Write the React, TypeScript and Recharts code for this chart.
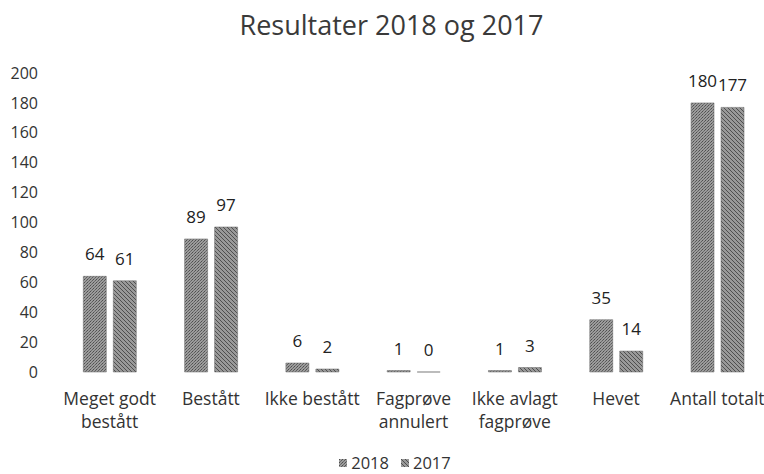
import { BarChart, Bar, XAxis, YAxis, Legend, LabelList } from "recharts"

const categories = [
  "Meget godt\nbestått",
  "Bestått",
  "Ikke bestått",
  "Fagprøve\nannulert",
  "Ikke avlagt\nfagprøve",
  "Hevet",
  "Antall totalt",
]
const values2018 = [64, 89, 6, 1, 1, 35, 180]
const values2017 = [61, 97, 2, 0, 3, 14, 177]
const yTicks = [0, 20, 40, 60, 80, 100, 120, 140, 160, 180, 200]

const data = categories.map((name, i) => ({
  name,
  y2018: values2018[i],
  y2017: values2017[i],
}))

const font = "'Open Sans', 'Noto Sans', sans-serif"

// zero-height bars are dropped, so give them a hair of height to keep their label
const keepZero = (v: any) => (v === 0 ? 0.01 : 0)

function CategoryTick(props: any) {
  const { x, y, payload } = props
  const lines = String(payload.value).split("\n")
  return (
    <text x={x} y={y} textAnchor="middle" fill="#333" fontSize={17.5} fontFamily={font}>
      {lines.map((l, i) => (
        <tspan key={i} x={x} dy={i === 0 ? 25 : 23}>
          {l}
        </tspan>
      ))}
    </text>
  )
}

function ValueLabel(props: any) {
  const { x, y, width, height, value } = props
  const top = Math.min(y, y + height)
  return (
    <text x={x + width / 2} y={top - 16} textAnchor="middle" fill="#222" fontSize={17} fontFamily={font}>
      {value}
    </text>
  )
}

function LegendContent() {
  const items = [
    { label: "2018", fill: "url(#pat2018)" },
    { label: "2017", fill: "url(#pat2017)" },
  ]
  return (
    <div
      style={{
        display: "flex",
        justifyContent: "center",
        paddingLeft: 22,
        fontFamily: font,
        fontSize: 16.5,
        color: "#333",
      }}
    >
      {items.map((it) => (
        <span key={it.label} style={{ display: "inline-flex", alignItems: "center", margin: "0 6px" }}>
          <svg width={8} height={8} style={{ marginRight: 4 }}>
            <rect width={8} height={8} fill={it.fill} />
          </svg>
          {it.label}
        </span>
      ))}
    </div>
  )
}

export default function App() {
  return (
    <div
      style={{
        position: "absolute",
        left: 0,
        top: 0,
        width: 764,
        height: 474,
        overflow: "hidden",
        background: "#fff",
      }}
    >
      <div
        style={{
          position: "absolute",
          top: 6,
          left: 0,
          width: 783,
          textAlign: "center",
          fontFamily: font,
          fontSize: 27,
          color: "#3a3a3a",
          lineHeight: "normal",
        }}
      >
        Resultater 2018 og 2017
      </div>
      <BarChart
        width={768}
        height={474}
        data={data}
        margin={{ top: 73, right: 0, bottom: 0, left: 0 }}
        barCategoryGap="24%"
        barGap={7}
      >
        <defs>
          <pattern id="pat2018" width="3" height="3" patternUnits="userSpaceOnUse">
            <rect width="3" height="3" fill="#9c9c9c" />
            <rect width="1" height="1" fill="#4e4e4e" />
            <rect x="2" y="1" width="1" height="1" fill="#5e5e5e" />
            <rect x="1" y="2" width="1" height="1" fill="#6e6e6e" />
          </pattern>
          <pattern id="pat2017" width="4" height="4" patternUnits="userSpaceOnUse">
            <rect width="4" height="4" fill="#999" />
            <path d="M0,0 L4,4 M-1,3 L1,5 M3,-1 L5,1" stroke="#4f4f4f" strokeWidth={1} />
          </pattern>
        </defs>
        <XAxis
          dataKey="name"
          axisLine={false}
          tickLine={false}
          interval={0}
          height={79}
          tick={<CategoryTick />}
        />
        <YAxis
          domain={[0, 200]}
          ticks={yTicks}
          axisLine={false}
          tickLine={false}
          tickSize={0}
          tickMargin={21}
          width={59}
          tick={{ fill: "#333", fontSize: 16, fontFamily: font }}
        />
        <Legend verticalAlign="bottom" content={<LegendContent />} />
        <Bar
          dataKey="y2018"
          fill="url(#pat2018)"
          stroke="#666"
          strokeWidth={0.5}
          minPointSize={keepZero}
          isAnimationActive={false}
        >
          <LabelList dataKey="y2018" content={<ValueLabel />} />
        </Bar>
        <Bar
          dataKey="y2017"
          fill="url(#pat2017)"
          stroke="#666"
          strokeWidth={0.5}
          minPointSize={keepZero}
          isAnimationActive={false}
        >
          <LabelList dataKey="y2017" content={<ValueLabel />} />
        </Bar>
      </BarChart>
    </div>
  )
}
